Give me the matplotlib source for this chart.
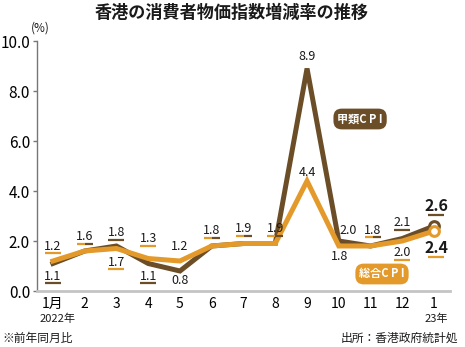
import matplotlib.pyplot as plt
from matplotlib.transforms import ScaledTranslation

plt.rcParams["font.family"] = ["Noto Sans CJK JP", "DejaVu Sans"]

months = ["1月", "2", "3", "4", "5", "6", "7", "8", "9", "10", "11", "12", "1"]
cpi_a = [1.1, 1.6, 1.8, 1.1, 0.8, 1.8, 1.9, 1.9, 8.9, 2.0, 1.8, 2.1, 2.6]
cpi_all = [1.2, 1.6, 1.7, 1.3, 1.2, 1.8, 1.9, 1.9, 4.4, 1.8, 1.8, 2.0, 2.4]
y_ticks = [0.0, 2.0, 4.0, 6.0, 8.0, 10.0]

BROWN = "#6b4e27"
ORANGE = "#e49a2b"
TEXT = "#1a1a1a"

narrow = ["Liberation Sans Narrow", "Noto Sans CJK JP"]

fig = plt.figure(figsize=(4.65, 3.47), dpi=100)
ax = fig.add_axes([37 / 465, 56 / 347, 413 / 465, 250 / 347])

x = list(range(len(months)))
ax.plot(x, cpi_a, color=BROWN, lw=3.6, solid_joinstyle="miter", zorder=3)
ax.plot(x, cpi_all, color=ORANGE, lw=3.6, solid_joinstyle="miter", zorder=4)
ax.plot(x[-1], cpi_a[-1], "o", ms=7, mfc="white", mec=BROWN, mew=2.2, zorder=5)
ax.plot(x[-1], cpi_all[-1], "o", ms=7, mfc="white", mec=ORANGE, mew=2.2, zorder=6)

ax.set_xlim(-0.5, 12.5)
ax.set_ylim(0, 10)
ax.set_yticks(y_ticks)
ax.set_yticklabels([f"{v:.1f}" for v in y_ticks], family=narrow, fontsize=11)
ax.set_xticks(x)
ax.set_xticklabels(months, fontsize=10)
ax.tick_params(axis="x", length=0, pad=4)
ax.tick_params(axis="y", length=3, width=1, color="#777777", pad=2)
for s in ["top", "right"]:
    ax.spines[s].set_visible(False)
ax.spines["left"].set_color("#777777")
ax.spines["left"].set_linewidth(1)
ax.spines["bottom"].set_color("#c4c4c4")
ax.spines["bottom"].set_linewidth(2)


def label(xi, yv, text, dx, dy, colors=None, size=9, bold=False):
    # value label placed dx/dy pixels from the point (dy > 0 means below),
    # with a short rule underneath, split in halves when both series share it
    ax.annotate(text, xy=(xi, yv), xytext=(dx, -dy), textcoords="offset pixels",
                ha="center", va="center", fontsize=size, color=TEXT,
                family=narrow, fontweight="bold" if bold else "normal",
                annotation_clip=False, zorder=7)
    if not colors:
        return
    n = len(colors)
    uy = -dy - size * 0.78
    inv = ax.transData.inverted()
    for k, c in enumerate(colors):
        x0 = dx - 8 + 16 * k / n
        x1 = dx - 8 + 16 * (k + 1) / n
        p0 = (ax.transData + ScaledTranslation(x0 / 100, uy / 100, fig.dpi_scale_trans)).transform((xi, yv))
        p1 = (ax.transData + ScaledTranslation(x1 / 100, uy / 100, fig.dpi_scale_trans)).transform((xi, yv))
        (a0, b0), (a1, b1) = inv.transform([p0, p1])
        ax.plot([a0, a1], [b0, b1], color=c, lw=1.6, solid_capstyle="butt",
                clip_on=False, zorder=7)


label(0, cpi_all[0], "1.2", 0, -15, [ORANGE])
label(0, cpi_a[0], "1.1", 0, 12.5, [BROWN])
label(1, cpi_a[1], "1.6", 0, -14, [ORANGE, BROWN])
label(2, cpi_a[2], "1.8", 0, -13, [BROWN])
label(2, cpi_all[2], "1.7", 0, 13.5, [ORANGE])
label(3, cpi_all[3], "1.3", 0, -19.5, [ORANGE])
label(3, cpi_a[3], "1.1", 0, 12.5, [BROWN])
label(4, cpi_all[4], "1.2", 0, -15)
label(4, cpi_a[4], "0.8", 0, 10)
label(5, cpi_a[5], "1.8", 0, -15, [ORANGE, BROWN])
label(6, cpi_a[6], "1.9", 0, -14.5, [ORANGE, BROWN])
label(7, cpi_a[7], "1.9", 0, -14.5, [ORANGE, BROWN])
label(8, cpi_a[8], "8.9", 0, -11.5)
label(8, cpi_all[8], "4.4", 0, -9)
label(9, cpi_a[9], "2.0", 9, -10)
label(9, cpi_all[9], "1.8", 1, 11)
label(10, cpi_a[10], "1.8", 2, -16, [ORANGE, BROWN])
label(11, cpi_a[11], "2.1", 0, -15.5, [BROWN])
label(11, cpi_all[11], "2.0", 0, 12, [ORANGE])
label(12, cpi_a[12], "2.6", 2, -20, [BROWN], size=11.5, bold=True)
label(12, cpi_all[12], "2.4", 2, 17, [ORANGE], size=11.5, bold=True)

# series badges
badge = dict(ha="center", va="center", fontsize=8, color="white",
             fontweight="bold", zorder=8)
ax.text(9.67, 6.88, "甲類C P I", **badge,
        bbox=dict(boxstyle="round,pad=0.35,rounding_size=0.75", fc=BROWN, ec="none"))
ax.text(10.36, 0.68, "総合C P I", **badge,
        bbox=dict(boxstyle="round,pad=0.35,rounding_size=0.75", fc=ORANGE, ec="none"))

fig.text(232 / 465, 1 - 13 / 347, "香港の消費者物価指数増減率の推移", ha="center",
         va="center", fontsize=12.3, fontweight="bold", color=TEXT)
fig.text(40 / 465, 1 - 28 / 347, "(%)", ha="center", va="center", fontsize=8.5,
         color=TEXT, family=narrow)
fig.text(58 / 465, 1 - 319 / 347, "2022年", ha="center", va="center", fontsize=8,
         color=TEXT)
fig.text(436 / 465, 1 - 319 / 347, "23年", ha="center", va="center", fontsize=8,
         color=TEXT)
fig.text(2 / 465, 1 - 338 / 347, "※前年同月比", ha="left", va="center", fontsize=8.5,
         color=TEXT)
fig.text(458 / 465, 1 - 338 / 347, "出所：香港政府統計処", ha="right", va="center",
         fontsize=8.5, color=TEXT)

fig.savefig("out.png", dpi=100, facecolor="white")
